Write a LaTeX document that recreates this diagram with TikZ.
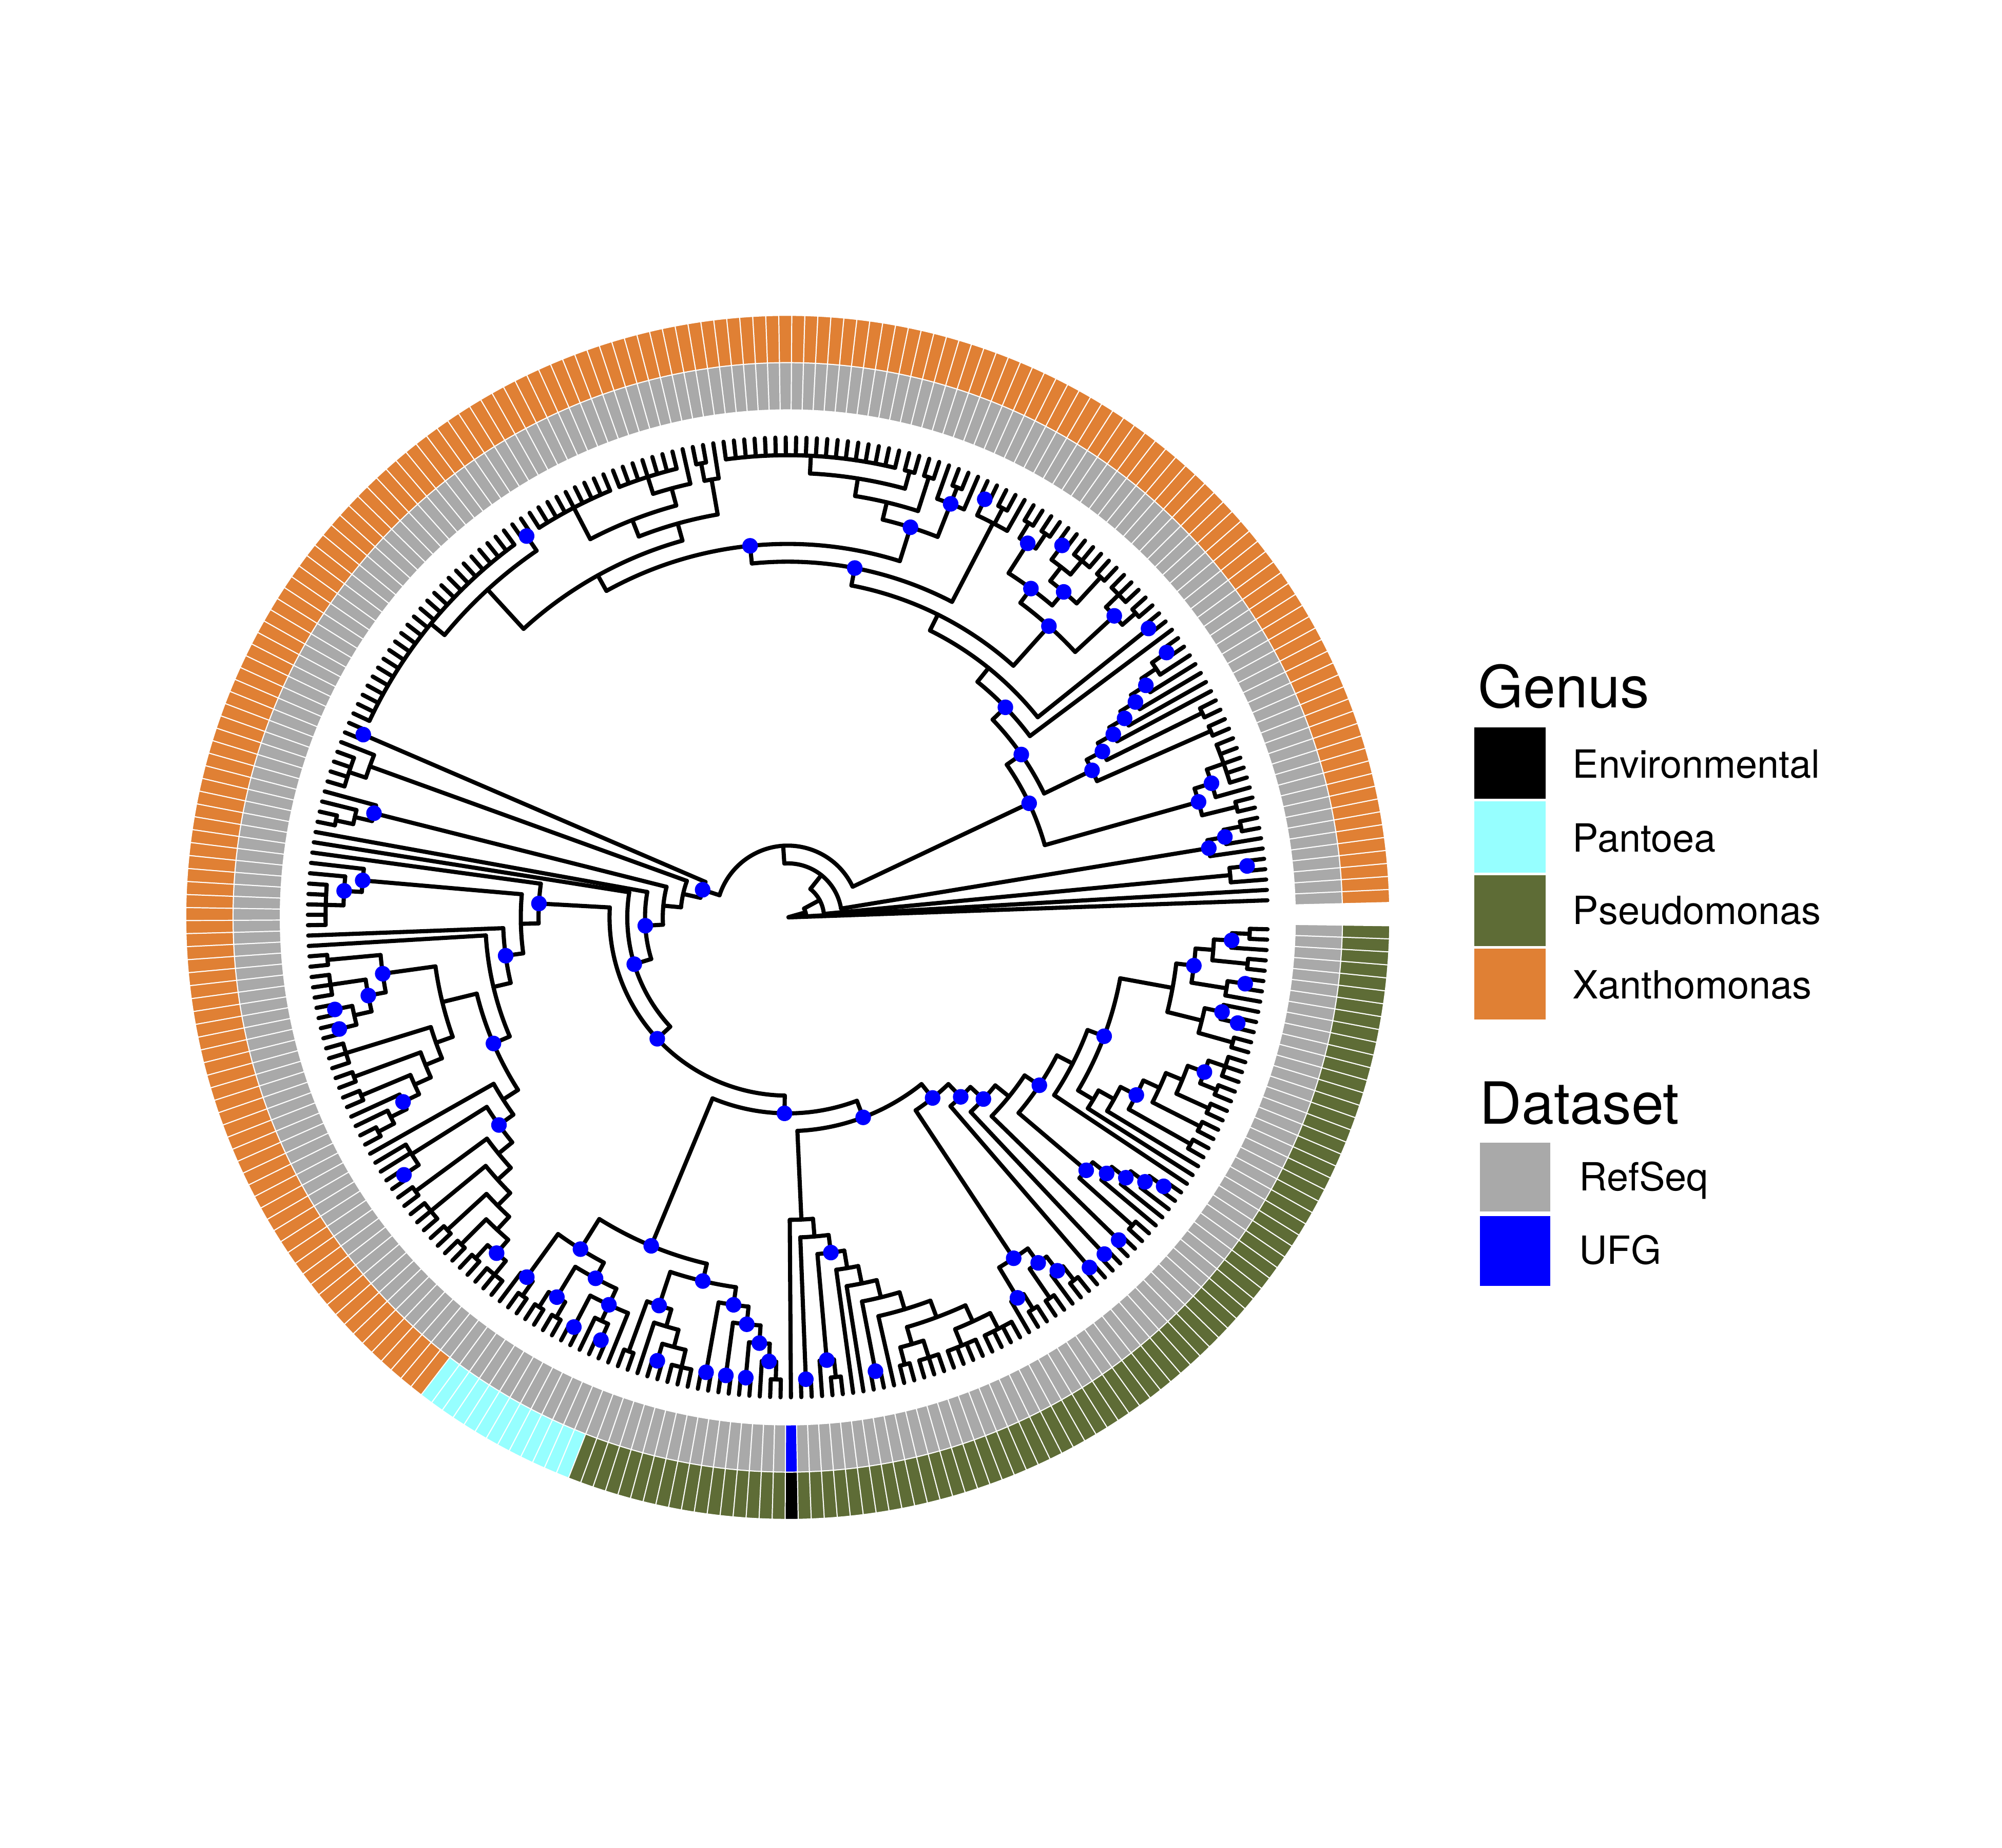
\documentclass[tikz,border=0pt]{standalone}
\usepackage{fontspec}
\setmainfont{TeX Gyre Heros}
\definecolor{xan}{HTML}{E08034}
\definecolor{pan}{HTML}{96FFFF}
\definecolor{pse}{HTML}{5E6C36}
\definecolor{envc}{HTML}{000000}
\definecolor{refs}{HTML}{A9A9A9}
\definecolor{ufg}{HTML}{0000FF}
\tikzset{
  treeline/.style={line width=1.85pt, line cap=round, line join=round, black},
  dotblue/.style={fill=ufg},
  tile/.style={draw=white, line width=0.45pt},
  keybox/.style={draw=white, line width=0.6pt},
  legtitle/.style={anchor=base west, font=\fontsize{25.9}{30}\selectfont, inner sep=0pt},
  leglabel/.style={anchor=base west, font=\fontsize{17.3}{20}\selectfont, inner sep=0pt}
}
\newcommand\TRline[3]{\draw[treeline] (#1:#2) -- (#1:#3);}
\newcommand\TRarc[3]{\draw[treeline] (#2:#1) arc[start angle=#2, end angle=#3, radius=#1];}
\newcommand\TRdot[2]{\fill[dotblue] (#1:#2) circle[radius=0.122];}
\ExplSyntaxOn
\int_new:N \g_tr_tip_int
\fp_new:N \g_tr_pos_fp
\int_new:N \g_tr_h_int
\fp_new:N \g_tr_delta_fp
\fp_new:N \g_tr_azero_fp
\bool_new:N \g_tr_draw_bool
\seq_new:N \l_tr_pos_seq
\seq_new:N \l_tr_h_seq
\int_new:N \l_tr_h_int
\fp_new:N \l_tr_pos_fp
\fp_new:N \l_tr_sum_fp
\bool_new:N \l_tr_dot_bool
\tl_new:N \g_tr_dots_tl
\cs_new:Npn \tr_ang:n #1
  { \fp_to_decimal:n { round( \g_tr_azero_fp + ( (#1) - 1 ) * \g_tr_delta_fp , 4 ) } }
\cs_new:Npn \tr_rad:n #1
  { \fp_to_decimal:n { round( max( 7.518 - 0.278 * (#1) , 0 ) , 4 ) } }
\cs_new_protected:Npn \tr_node:n #1
  {
    \group_begin:
      \seq_clear:N \l_tr_pos_seq
      \seq_clear:N \l_tr_h_seq
      \bool_set_false:N \l_tr_dot_bool
      \tl_map_inline:nn {#1}
        {
          \str_if_eq:nnTF {##1} {t}
            {
              \int_gincr:N \g_tr_tip_int
              \seq_put_right:Nx \l_tr_pos_seq { \int_use:N \g_tr_tip_int }
              \seq_put_right:Nn \l_tr_h_seq { 0 }
            }
            {
              \str_if_eq:nnTF {##1} {!}
                { \bool_set_true:N \l_tr_dot_bool }
                {
                  \tr_node:n {##1}
                  \seq_put_right:Nx \l_tr_pos_seq { \fp_use:N \g_tr_pos_fp }
                  \seq_put_right:Nx \l_tr_h_seq { \int_use:N \g_tr_h_int }
                }
            }
        }
      \int_set:Nn \l_tr_h_int { 0 }
      \seq_map_inline:Nn \l_tr_h_seq
        { \int_set:Nn \l_tr_h_int { \int_max:nn { \l_tr_h_int } { ##1 } } }
      \int_incr:N \l_tr_h_int
      \fp_set:Nn \l_tr_sum_fp { 0 }
      \seq_map_inline:Nn \l_tr_pos_seq
        { \fp_set:Nn \l_tr_sum_fp { \l_tr_sum_fp + ##1 } }
      \fp_set:Nn \l_tr_pos_fp { \l_tr_sum_fp / ( \seq_count:N \l_tr_pos_seq ) }
      \bool_if:NT \g_tr_draw_bool
        {
          \use:x
            {
              \exp_not:N \TRarc
                { \tr_rad:n { \int_use:N \l_tr_h_int } }
                { \tr_ang:n { \seq_item:Nn \l_tr_pos_seq { 1 } } }
                { \tr_ang:n { \seq_item:Nn \l_tr_pos_seq { -1 } } }
            }
          \int_step_inline:nn { \seq_count:N \l_tr_pos_seq }
            {
              \use:x
                {
                  \exp_not:N \TRline
                    { \tr_ang:n { \seq_item:Nn \l_tr_pos_seq { ##1 } } }
                    { \tr_rad:n { \int_use:N \l_tr_h_int } }
                    { \tr_rad:n { \seq_item:Nn \l_tr_h_seq { ##1 } } }
                }
            }
          \bool_if:NT \l_tr_dot_bool
            {
              \tl_gput_right:Nx \g_tr_dots_tl
                {
                  \exp_not:N \TRdot
                    { \tr_ang:n { \fp_use:N \l_tr_pos_fp } }
                    { \tr_rad:n { \int_use:N \l_tr_h_int } }
                }
            }
        }
      \fp_gset_eq:NN \g_tr_pos_fp \l_tr_pos_fp
      \int_gset_eq:NN \g_tr_h_int \l_tr_h_int
    \group_end:
  }
\cs_new_protected:Npn \tr_run:n #1
  {
    \int_gzero:N \g_tr_tip_int
    \bool_gset_false:N \g_tr_draw_bool
    \tr_node:n {#1}
    \fp_gset:Nn \g_tr_azero_fp { 2.04 }
    \fp_gset:Nn \g_tr_delta_fp { ( 358.58 - 2.04 ) / ( \g_tr_tip_int - 1 ) }
    \cs_gset:Npx \TRN { \int_use:N \g_tr_tip_int }
    \cs_gset:Npx \TRdelta { \fp_to_decimal:n { round( \g_tr_delta_fp , 5 ) } }
    \int_gzero:N \g_tr_tip_int
    \bool_gset_true:N \g_tr_draw_bool
    \tl_gclear:N \g_tr_dots_tl
    \tr_node:n {#1}
    \g_tr_dots_tl
  }
\NewDocumentCommand \DrawTree { m } { \exp_args:No \tr_run:n {#1} }
\ExplSyntaxOff
\def\TreeData{%
 t
 {t
  {{t {! t t}}
   {{! t {! t {t t}}}
    {%
     {!%
      {! {t t} {! t {t t t t t}}}
      {!%
       {! {t t} {! {t t} {! t {! t {! t {! t {t {! t t}}}}}}}}
       {! t
        { {! t t}
         {%
          {! {! {t t} {t t t}} {! {! {t t} {{t t t} {! t t}}} {! {t t} {t t}}}}
          {!%
           {t {t t} {! t t}}
           {!%
            {! {! t {t t} t} {{t t} {{t t} {t t t t t t t t t t t t t t t t t t}}}}
            { {{t {t t}} {{t {t t t t t t t}} {t t t t t t t t t}}} {{! t t} {t t t t t t t t t t t t t t t t t t t t t t t t}} }
           }
          }
         }
        }
       }
      }
     }
     {!%
      {! t t}
      {%
       {t {t t t t}}
       {%
        {! t {t {t t}}}
        {! t
         {! t
          {!%
           {! t
            {%
             {! t {! t {t t t t t}}}
             {! t
              { t
               {!%
                { {! {t t} {! {t t t} {{! t t} {! t t}}}} {{t t t} {{t t} {{t t} {! t {t {t t}}}}}} }
                { t {! {t t {! t t}} {{t t} {{t t t} {{t t} {{t t} {! {t t} {t t t}}}}}}} }
               }
              }
             }
            }
           }
           {!%
            {!%
             {! {! t {t t}} {! {! {t t} {t t}} {! {! t t} {t {! t t}} t}}}
             {! {! {t t} {t {{! t t} {t t t}}}} {! {! t t} {! {! t t} {! {! t t} {! t {t t}}}}}}
            }
            {!%
             { t { {! t t} {! {! t {t t}} { t { t { {! t t} { t { {{t t} {t t t}} {{t t t t} {t t t t}} } } } } } } } }
             {!%
              {! {! t {t t}} {! {t t} {! t {t t}}}}
              {! {! t t} {! {! t t} { {! t t}
                {!%
                 {! {t t} {! t {! t {! t {! t t}}}}}
                 { t
                  {!%
                   { t { t {! {t t} { {t t} { {t t} {! {t t} {t t t}} } } } } }
                   { { {t t} {! {! t t} t} } {! {t {! t t}} { {t t} {! t {t t}} } } }
                  }
                 }
                }
              } } }
             }
            }
           }
          }
         }
        }
       }
      }
     }
    }
   }
  }
 }%
}
\begin{document}
\begin{tikzpicture}
\fill[white] (-12.34,-14.57) rectangle (19.02,14.37);
\useasboundingbox (-12.34,-14.57) rectangle (19.02,14.37);
\DrawTree{\TreeData}
\foreach \k in {1,...,\TRN}{
  \pgfmathsetmacro\tA{2.04+(\k-1)*\TRdelta-\TRdelta/2}
  \pgfmathsetmacro\tB{\tA+\TRdelta}
  \ifnum\k<187 \def\gc{xan}\else\ifnum\k<200 \def\gc{pan}\else\ifnum\k=217 \def\gc{envc}\else\def\gc{pse}\fi\fi\fi
  \ifnum\k=217 \def\dc{ufg}\else\def\dc{refs}\fi
  \fill[\dc, tile] (\tA:7.95) arc[start angle=\tA, end angle=\tB, radius=7.95] -- (\tB:8.69) arc[start angle=\tB, end angle=\tA, radius=8.69] -- cycle;
  \fill[\gc, tile] (\tA:8.69) arc[start angle=\tA, end angle=\tB, radius=8.69] -- (\tB:9.43) arc[start angle=\tB, end angle=\tA, radius=9.43] -- cycle;
}
% legend
\node[legtitle] (genusT) at (10.81,3.284) {Genus};
\fill[envc, keybox] (10.744,1.85) rectangle (11.88,2.984);
\fill[pan, keybox] (10.744,0.69) rectangle (11.88,1.83);
\fill[pse, keybox] (10.744,-0.46) rectangle (11.88,0.67);
\fill[xan, keybox] (10.744,-1.606) rectangle (11.88,-0.48);
\node[leglabel] (lenv) at (12.29,2.184) {Environmental};
\node[leglabel] (lpan) at (12.29,1.03) {Pantoea};
\node[leglabel] (lpse) at (12.29,-0.11) {Pseudomonas};
\node[leglabel] (lxan) at (12.29,-1.27) {Xanthomonas};
\node[legtitle] (dataT) at (10.83,-3.236) {Dataset};
\fill[refs, keybox] (10.83,-4.616) rectangle (11.956,-3.516);
\fill[ufg, keybox] (10.83,-5.782) rectangle (11.956,-4.67);
\node[leglabel] (lref) at (12.39,-4.282) {RefSeq};
\node[leglabel] (lufg) at (12.39,-5.43) {UFG};
\end{tikzpicture}
\end{document}
